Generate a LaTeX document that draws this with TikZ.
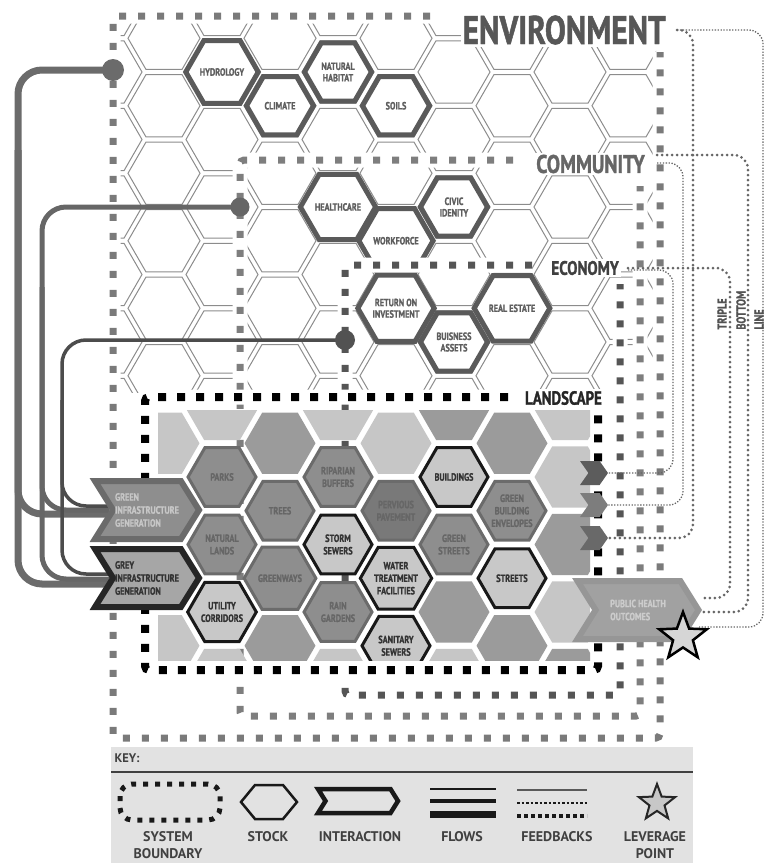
\documentclass[tikz,border=0pt]{standalone}
\usepackage{fontspec}
\newfontfamily\cond{PT Sans}[FakeStretch=0.78,BoldFont={PT Sans Bold},BoldFeatures={FakeStretch=0.78,FakeBold=1.2}]
\newfontfamily\keyfnt{PT Sans}[BoldFont={PT Sans Bold}]
\usepackage{xcolor}
\usetikzlibrary{shapes.geometric,shapes.symbols,calc}
\definecolor{gridc}{HTML}{8C8C8C}
\definecolor{stockc}{HTML}{5A5A5A}
\definecolor{stocktxt}{HTML}{5E5E5E}
\definecolor{envc}{HTML}{7A7A7A}
\definecolor{commc}{HTML}{7E7E7E}
\definecolor{econc}{HTML}{555555}
\definecolor{gtfill}{HTML}{8E8E8E}
\definecolor{gtline}{HTML}{6B6B6B}
\definecolor{gttxt}{HTML}{666666}
\definecolor{lightfill}{HTML}{C8C8C8}
\definecolor{tdark}{HTML}{9B9B9B}
\definecolor{tlight}{HTML}{C6C6C6}
\definecolor{flowc}{HTML}{6B6B6B}
\definecolor{fbc}{HTML}{666666}
\definecolor{keyc}{HTML}{E2E2E2}
\pgfdeclarelayer{bg}
\pgfdeclarelayer{mid}
\pgfdeclarelayer{lines}
\pgfsetlayers{bg,mid,lines,main}
\tikzset{
  cellhex/.pic={\draw[gridc,line width=1pt] (36,0) -- (18,31.2) -- (-18,31.2) -- (-36,0) -- (-18,-31.2) -- (18,-31.2) -- cycle;},
  tile/.pic={\fill[pic actions] (35.5,0) -- (17.75,30.7) -- (-17.75,30.7) -- (-35.5,0) -- (-17.75,-30.7) -- (17.75,-30.7) -- cycle;},
  stock/.style={regular polygon,regular polygon sides=6,draw=stockc,line width=5pt,fill=white,minimum size=67pt,inner sep=0pt,align=center,text=stocktxt,font=\cond\bfseries\fontsize{10.5}{11.5}\selectfont},
  greentile/.style={regular polygon,regular polygon sides=6,draw=gtline,line width=3pt,fill=gtfill,minimum size=68pt,inner sep=0pt,align=center,text=gttxt,font=\cond\bfseries\fontsize{10.5}{12.5}\selectfont},
  greytile/.style={greentile,draw=black!90,fill=lightfill,text=black!80},
  bound/.style={line width=7pt,dash pattern=on 7pt off 12pt,rounded corners=4pt,preaction={draw=white,solid,line width=15pt}},
  syslabel/.style={fill=white,inner sep=2pt,anchor=east},
  flowdot/.style={circle,inner sep=0pt},
  flowline/.style={color=flowc,rounded corners=24pt},
  fbfine/.style={color=fbc,line width=1.3pt,dash pattern=on 1.3pt off 1.6pt,rounded corners=14pt},
  fbheavy/.style={color=fbc,line width=3pt,line cap=round,dash pattern=on 0pt off 5pt,rounded corners=14pt},
  chev/.style={signal,signal from=west,signal to=east,signal pointer angle=116,inner sep=0pt,align=left,font=\cond\bfseries\fontsize{10.5}{13}\selectfont},
  minichev/.style={signal,signal from=west,signal to=east,signal pointer angle=110,minimum width=28pt,minimum height=24pt,inner sep=0pt},
  keylbl/.style={align=center,text=black!75,font=\keyfnt\bfseries\fontsize{14}{17}\selectfont},
}

\begin{document}
\begin{tikzpicture}[x=1pt,y=-1pt]
\useasboundingbox (0,0) rectangle (767,863);

% hex grid and stocks
\begin{pgfonlayer}{bg}
\begin{scope}
\clip (118,20) rectangle (656,392);
\foreach \k in {0,...,9}
  \foreach \j in {-1,...,5}
    \pic at ({106+58*\k},{72+67.5*\j+33.75*mod(\k,2)}) {cellhex};
\end{scope}
\node[stock] (hydro) at (222,72) {HYDROLOGY};
\node[stock] (climate) at (280,105.75) {CLIMATE};
\node[stock] (habitat) at (338,72) {NATURAL\\HABITAT};
\node[stock] (soils) at (396,105.75) {SOILS};
\node[stock] (health) at (338,207) {HEALTHCARE};
\node[stock] (workforce) at (396,240.75) {WORKFORCE};
\node[stock] (civic) at (454,207) {CIVIC\\IDENITY};
\node[stock] (roi) at (396,308.25) {RETURN ON\\INVESTMENT};
\node[stock] (assets) at (454,342) {BUISNESS\\ASSETS};
\node[stock] (estate) at (512,308.25) {REAL ESTATE};
\end{pgfonlayer}

% system boundaries
\begin{pgfonlayer}{mid}
\draw[bound,envc] (430,16) -- (113,16) -- (113,738) -- (660,738) -- (660,52);
\draw[bound,commc] (513,160) -- (240,160) -- (240,716) -- (640,716) -- (640,186);
\draw[bound,econc] (532,265) -- (345,265) -- (345,695) -- (620,695) -- (620,284);
\draw[bound,black,line width=8pt,dash pattern=on 8pt off 11pt] (508,397) -- (145,397) -- (145,670) -- (598,670) -- (598,412);
\end{pgfonlayer}

\node[syslabel,text=black!66,font=\cond\bfseries\fontsize{40}{40}\selectfont] (envlbl) at (668,30) {ENVIRONMENT};
\node[syslabel,text=black!60,font=\cond\bfseries\fontsize{25.5}{26}\selectfont] (commlbl) at (647,164) {COMMUNITY};
\node[syslabel,text=black!75,font=\cond\bfseries\fontsize{19.5}{20}\selectfont] (econlbl) at (621,268) {ECONOMY};
\node[syslabel,text=black!85,font=\cond\bfseries\fontsize{19}{20}\selectfont] (landlbl) at (604,398) {LANDSCAPE};

% landscape tiles
\begin{scope}
\clip (158,410) rectangle (590,660);
\foreach \x/\y/\c in {164/443.25/tlight,164/510.75/tdark,164/578.25/tdark,164/645.75/tlight,
  222/409.5/tlight,222/679.5/tlight,280/443.25/tdark,280/645.75/tdark,
  338/409.5/tlight,338/679.5/tlight,396/443.25/tlight,
  454/409.5/tdark,454/612/tdark,454/679.5/tlight,512/443.25/tdark,512/645.75/tdark,
  570/409.5/tlight,570/477/tlight,570/544.5/tdark,570/612/tlight,570/679.5/tdark}
  \pic[fill=\c] at (\x,\y) {tile};
\node[greentile] (parks) at (222,477) {PARKS};
\node[greentile] (riparian) at (338,477) {RIPARIAN\\BUFFERS};
\node[greentile] (trees) at (280,510.75) {TREES};
\node[greentile,fill=gtfill!85!black] (pervious) at (396,510.75) {PERVIOUS\\PAVEMENT};
\node[greentile] (natlands) at (222,544.5) {NATURAL\\LANDS};
\node[greytile] (storm) at (338,544.5) {STORM\\SEWERS};
\node[greentile] (greenways) at (280,578.25) {GREENWAYS};
\node[greytile] (water) at (396,578.25) {WATER\\TREATMENT\\FACILITIES};
\node[greytile] (utility) at (222,612) {UTILITY\\CORRIDORS};
\node[greentile] (raingard) at (338,612) {RAIN\\GARDENS};
\node[greytile] (sanitary) at (396,645.75) {SANITARY\\SEWERS};
\node[greytile] (buildings) at (454,477) {BUILDINGS};
\node[greentile] (envelopes) at (512,510.75) {GREEN\\BUILDING\\ENVELOPES};
\node[greentile] (gstreets) at (454,544.5) {GREEN\\STREETS};
\node[greytile] (streets) at (512,578.25) {STREETS};
\end{scope}

% interactions
\node[chev,minimum width=104pt,minimum height=58pt,line width=6pt,draw=gtline,fill=gtfill,text=black!22] (gig) at (147,510) {GREEN\\INFRASTRUCTURE\\GENERATION};
\node[chev,minimum width=104pt,minimum height=58pt,line width=6pt,draw=black!85,fill=black!35,text=black!80] (grig) at (147,578) {GREY\\INFRASTRUCTURE\\GENERATION};
\node[minichev,fill=black!64] (chevA) at (594,473) {};
\node[minichev,fill=black!51] (chevB) at (594,505) {};
\node[minichev,fill=black!59] (chevC) at (594,538) {};
\node[chev,minimum width=121pt,minimum height=58pt,line width=6pt,draw=black!41,fill=black!37,text=black!20] (pho) at (638,610) {PUBLIC HEALTH\\OUTCOMES};
\node[star,star points=5,star point ratio=2.4,minimum size=50pt,inner sep=0pt,draw=black,line width=2.5pt,fill=black!16] (lev) at (683,637) {};

% flow sources
\node[flowdot,fill=flowc,minimum size=22pt] (envdot) at (113,70) {};
\node[flowdot,fill=black!60,minimum size=19pt] (commdot) at (240,207) {};
\node[flowdot,fill=black!68,minimum size=20pt] (econdot) at (345,340) {};

\node[rotate=90,anchor=west,text=black!68,font=\cond\bfseries\fontsize{13}{13}\selectfont] (tbl1) at (722,333) {TRIPLE};
\node[rotate=90,anchor=west,text=black!68,font=\cond\bfseries\fontsize{13}{13}\selectfont] (tbl2) at (741,333) {BOTTOM};
\node[rotate=90,anchor=west,text=black!68,font=\cond\bfseries\fontsize{13}{13}\selectfont] (tbl3) at (759,333) {LINE};

% flows and feedbacks
\begin{pgfonlayer}{lines}
\draw[flowline,line width=7pt] (envdot.center) -- ++(-95,0) |- ([yshift=-6pt]grig.west);
\draw[flowline,line width=7pt] ([xshift=-95pt,yshift=-80pt]envdot.center) |- ([yshift=-4pt]gig.west);
\draw[flowline,line width=5pt,color=black!60] (commdot.center) -- ++(-198,0) |- ([yshift=-1pt]grig.west);
\draw[flowline,line width=5pt,color=black!60] ([xshift=-198pt,yshift=-80pt]commdot.center) |- (gig.west);
\draw[flowline,line width=3.5pt,color=black!70] (econdot.center) -- ++(-283,0) |- ([yshift=4pt]grig.west);
\draw[flowline,line width=3.5pt,color=black!70] ([xshift=-283pt,yshift=-60pt]econdot.center) |- ([yshift=4pt]gig.west);
\draw[fbfine] ([xshift=9pt]envlbl.east) -- ++(86,0) |- ([yshift=10pt]lev.east);
\draw[fbheavy] ([xshift=9pt]envlbl.east) -- ++(16,0) |- (chevC.east);
\draw[fbheavy] ([xshift=10pt,yshift=9pt]commlbl.east) -- ++(91,0) |- ([yshift=-2pt]pho.east);
\draw[fbfine] ([xshift=10pt,yshift=1pt]commlbl.east) -- ++(26,0) |- (chevB.east);
\draw[fbheavy] ([xshift=7pt]econlbl.east) -- ++(102,0) |- ([yshift=12pt]pho.east);
\draw[fbfine] ([xshift=7pt,yshift=-2pt]econlbl.east) -- ++(45,0) |- (chevA.east);
\end{pgfonlayer}

% key
\node[fill=keyc,minimum width=582pt,minimum height=116pt,inner sep=0pt,anchor=north west] (keybox) at (111,747) {};
\node[anchor=west,text=black!75,font=\keyfnt\bfseries\fontsize{12.5}{13}\selectfont] (keyttl) at (111,758) {KEY:};
\draw[black!75,line width=1.6pt] ([yshift=-25pt]keybox.north west) -- ([yshift=-25pt]keybox.north east);
\draw[black!90,line width=5pt,dash pattern=on 5pt off 7pt,rounded corners=12pt] (120,784) rectangle (220,820);
\draw[black!90,line width=2.5pt] (297,802) -- (283,785) -- (255,785) -- (241,802) -- (255,819) -- (283,819) -- cycle;
\node[signal,signal from=west,signal to=east,signal pointer angle=116,minimum width=80pt,minimum height=24pt,inner sep=0pt,draw=black!90,line width=4.5pt] (keyint) at (358,801) {};
\draw[black!90,line width=2pt] (430,789) -- (496,789);
\draw[black!90,line width=4.5pt] (430,801) -- (496,801);
\draw[black!90,line width=7pt] (430,814) -- (496,814);
\draw[black!65,line width=1.5pt] (517,790) -- (587,790);
\draw[black!90,line width=2pt,dash pattern=on 2.5pt off 2pt] (517,803) -- (587,803);
\draw[black!90,line width=4.5pt,dash pattern=on 4pt off 3pt] (517,816) -- (587,816);
\node[star,star points=5,star point ratio=2.4,minimum size=38pt,inner sep=0pt,draw=black!85,line width=2pt,fill=black!22] (keystar) at (657,803) {};
\node[keylbl] (lbsys) at (168,845) {SYSTEM\\BOUNDARY};
\node[keylbl] (lbstock) at (268,837) {STOCK};
\node[keylbl] (lbint) at (360,837) {INTERACTION};
\node[keylbl] (lbflow) at (462,837) {FLOWS};
\node[keylbl] (lbfb) at (557,837) {FEEDBACKS};
\node[keylbl] (lblev) at (655,845) {LEVERAGE\\POINT};
\end{tikzpicture}
\end{document}
